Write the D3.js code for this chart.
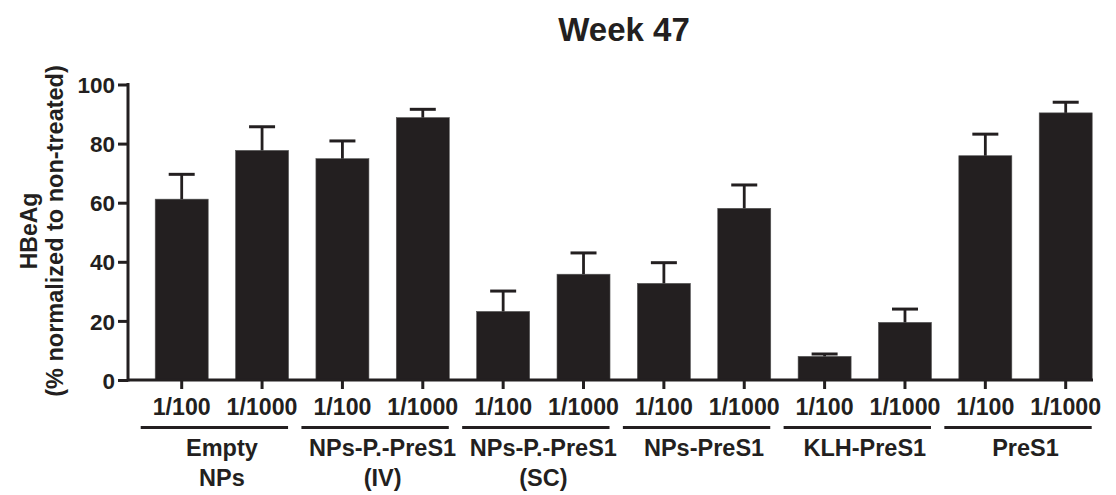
<!DOCTYPE html>
<html>
<head>
<meta charset="utf-8">
<script src="https://cdn.jsdelivr.net/npm/d3@7"></script>
<style>
  body { margin: 0; background: #fff; }
  text { font-family: "Liberation Sans", Arial, Helvetica, sans-serif; font-weight: bold; fill: #231f20; }
</style>
</head>
<body>
<script>
// groups (each has two dilutions)
var groups = [["Empty", "NPs"], ["NPs-P.-PreS1", "(IV)"], ["NPs-P.-PreS1", "(SC)"], ["NPs-PreS1"], ["KLH-PreS1"], ["PreS1"]];
var dilutions = ["1/100", "1/1000"];

// bar heights (mean) and error (upper SEM)
var means = [61.2, 77.7, 74.9, 88.8, 23.2, 35.8, 32.7, 58.1, 8.0, 19.5, 75.9, 90.4];
var errors = [8.4, 8.0, 6.0, 2.8, 6.9, 7.2, 7.0, 7.9, 0.8, 4.5, 7.3, 3.6];
var yTicks = [0, 20, 40, 60, 80, 100];

var ink = "#231f20";
var width = 1116, height = 495;

var svg = d3.select("body").append("svg")
    .attr("width", width)
    .attr("height", height);

var bars = [];
groups.forEach((g, gi) => {
    dilutions.forEach((d, di) => {
        let i = gi * 2 + di;
        bars.push({id: i, group: gi, label: d, mean: means[i], err: errors[i]});
    });
});

//scales
var x = d3.scalePoint()
    .domain(bars.map(d => d.id))
    .range([181.7, 1065.7]);

var y = d3.scaleLinear()
    .domain([0, 100])
    .range([380, 84.5]);

var barW = 53;
var axisLeft = 128, axisRight = 1093;

// bars
svg.selectAll(".bar")
    .data(bars)
    .enter()
    .append("rect")
    .attr("class", "bar")
    .attr("x", d => x(d.id) - barW / 2)
    .attr("y", d => y(d.mean))
    .attr("width", barW)
    .attr("height", d => y(0) - y(d.mean))
    .style("fill", ink)
    .style("stroke", "#555")
    .style("stroke-width", 0.6);

// error bars (upper only)
svg.selectAll(".err")
    .data(bars)
    .enter()
    .append("line")
    .attr("class", "err")
    .attr("x1", d => x(d.id))
    .attr("x2", d => x(d.id))
    .attr("y1", d => y(d.mean))
    .attr("y2", d => y(d.mean + d.err))
    .style("stroke", ink)
    .style("stroke-width", 2.8);

svg.selectAll(".cap")
    .data(bars)
    .enter()
    .append("line")
    .attr("class", "cap")
    .attr("x1", d => x(d.id) - 13)
    .attr("x2", d => x(d.id) + 13)
    .attr("y1", d => y(d.mean + d.err))
    .attr("y2", d => y(d.mean + d.err))
    .style("stroke", ink)
    .style("stroke-width", 3);

// y axis
var yAxis = svg.append("g")
    .attr("transform", `translate(${axisLeft},0)`)
    .call(d3.axisLeft(y).tickValues(yTicks).tickSize(10).tickPadding(3).tickFormat(d3.format("d")));
yAxis.select(".domain").remove();
yAxis.selectAll(".tick line").style("stroke", ink).style("stroke-width", 3);
yAxis.selectAll(".tick text").style("font-size", "22.5px").attr("dy", "0.36em");
yAxis.append("line")
    .attr("x1", 0).attr("x2", 0)
    .attr("y1", y(100) - 1.5).attr("y2", y(0) + 1.5)
    .style("stroke", ink).style("stroke-width", 3);

// x axis
var xAxis = svg.append("g")
    .attr("transform", "translate(0,380)");
xAxis.append("line")
    .attr("x1", axisLeft).attr("x2", axisRight)
    .attr("y1", 0).attr("y2", 0)
    .style("stroke", ink).style("stroke-width", 3);
xAxis.selectAll(".xtick")
    .data(bars)
    .enter()
    .append("line")
    .attr("x1", d => x(d.id)).attr("x2", d => x(d.id))
    .attr("y1", 0).attr("y2", 9)
    .style("stroke", ink).style("stroke-width", 3);
xAxis.selectAll(".xlab")
    .data(bars)
    .enter()
    .append("text")
    .attr("x", d => x(d.id))
    .attr("y", 35)
    .attr("text-anchor", "middle")
    .style("font-size", "23.2px")
    .text(d => d.label);

// group underlines + group labels
groups.forEach((g, gi) => {
    let x1 = x(gi * 2), x2 = x(gi * 2 + 1);
    svg.append("line")
        .attr("x1", x1 - 41).attr("x2", x2 + 26)
        .attr("y1", 427.5).attr("y2", 427.5)
        .style("stroke", ink).style("stroke-width", 3.2);
    let t = svg.append("text")
        .attr("x", (x1 + x2) / 2)
        .attr("y", 456)
        .attr("text-anchor", "middle")
        .style("font-size", "23.5px");
    g.forEach((line, li) => {
        t.append("tspan")
            .attr("x", (x1 + x2) / 2)
            .attr("y", 456 + li * 30)
            .text(line);
    });
});

// y axis title
var yTitle = svg.append("text")
    .attr("transform", "translate(0,231) rotate(-90)")
    .attr("text-anchor", "middle");
yTitle.append("tspan").attr("x", 0).attr("y", 37).style("font-size", "23px").text("HBeAg");
yTitle.append("tspan").attr("x", 0).attr("y", 63).style("font-size", "23.5px").text("(% normalized to non-treated)");

// title
svg.append("text")
    .attr("x", 624)
    .attr("y", 41)
    .attr("text-anchor", "middle")
    .style("font-size", "33px")
    .text("Week 47");
</script>
</body>
</html>
